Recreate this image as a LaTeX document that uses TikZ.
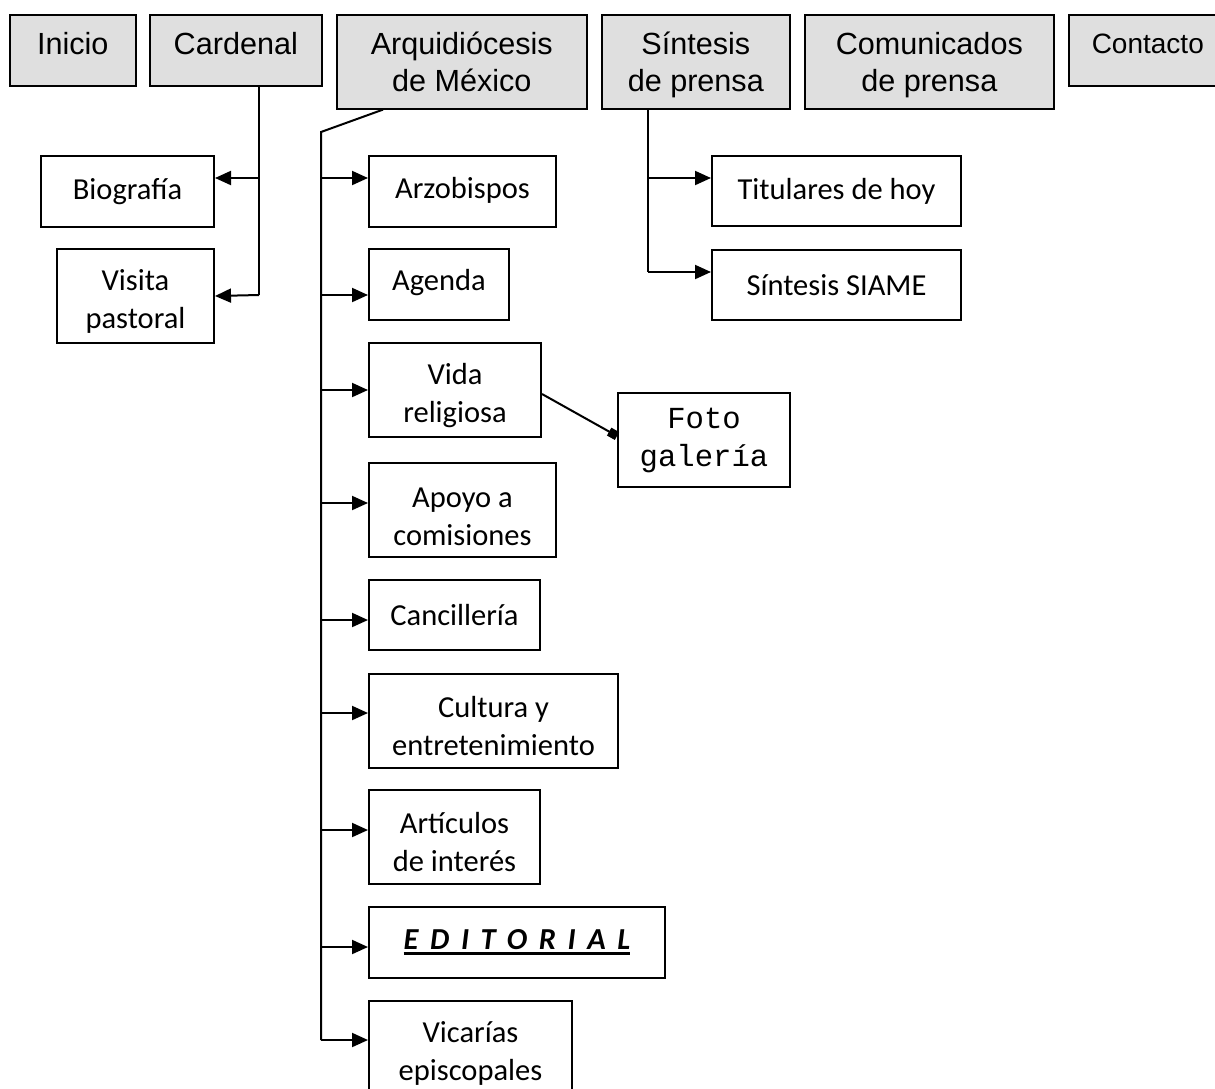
\documentclass[tikz,border=0pt]{standalone}
\usepackage{fontspec}
\setmainfont{Carlito}
\newfontfamily\arialfont{Liberation Sans}
\newfontfamily\courierfont{Liberation Mono}
\usetikzlibrary{arrows.meta,calc}

\newcommand{\subraya}[1]{\vtop{\hbox{#1}\kern1.2pt\hrule height 1.6pt}}
\newcommand{\bajar}[1]{\rule{0pt}{#1}}

\tikzset{
  menu/.style={draw, fill=gray!25, line width=0.8pt, inner sep=0pt, align=center, anchor=north west, font=\arialfont\fontsize{15.3}{18.5}\selectfont},
  hoja/.style={draw, line width=1pt, inner sep=0pt, align=center, anchor=north west, font=\fontsize{15.25}{19}\selectfont},
  flecha/.style={line width=1pt, -{Triangle[length=8pt,width=7pt]}},
  enlace/.style={line width=1pt}
}

\begin{document}
\begin{tikzpicture}[x=0.5pt,y=-0.5pt]

      \useasboundingbox (0,0) rectangle (1215,1088);

      % menu principal
      \node[menu, minimum width=63pt, minimum height=35.5pt, text depth=6.5pt] (inicio) at (9,14) {Inicio};
      \node[menu, minimum width=86pt, minimum height=35.5pt, text depth=6.5pt] (cardenal) at (149,14) {Cardenal};
      \node[menu, minimum width=125pt, minimum height=47pt] (arq) at (336,14) {Arquidiócesis\\de México};
      \node[menu, minimum width=94pt, minimum height=47pt] (sintesis) at (601,14) {\bajar{14pt}Síntesis\\de prensa};
      \node[menu, minimum width=124.5pt, minimum height=47pt] (comunicados) at (804,14) {\bajar{14pt}Comunicados\\de prensa};
      \node[menu, minimum width=79pt, minimum height=35.5pt, text depth=7pt, font=\arialfont\fontsize{14}{17}\selectfont] (contacto) at (1068,14) {Contacto};

      % Cardenal
      \node[hoja, minimum width=86.5pt, minimum height=35.5pt] (biografia) at (40,155) {Biografía};
      \node[hoja, minimum width=78.5pt, minimum height=47pt] (visita) at (56,248) {\bajar{15.5pt}Visita\\pastoral};

      % Arquidiocesis
      \node[hoja, minimum width=93.5pt, minimum height=35.5pt, text depth=4pt] (arzobispos) at (368,155) {Arzobispos};
      \node[hoja, minimum width=70pt, minimum height=35.5pt, text depth=5pt] (agenda) at (368,248) {Agenda};
      \node[hoja, minimum width=86pt, minimum height=47pt] (vida) at (368,342) {\bajar{16.5pt}Vida\\religiosa};
      \node[hoja, minimum width=93.5pt, minimum height=47pt] (apoyo) at (368,462) {\bajar{16.5pt}Apoyo a\\comisiones};
      \node[hoja, minimum width=85.5pt, minimum height=35pt] (cancilleria) at (368,579) {Cancillería};
      \node[hoja, minimum width=124.5pt, minimum height=47pt] (cultura) at (368,673) {\bajar{16pt}Cultura y\\entretenimiento};
      \node[hoja, minimum width=85.5pt, minimum height=47pt] (articulos) at (368,789) {\bajar{16pt}Artículos\\de interés};
      \node[hoja, minimum width=148pt, minimum height=35.5pt] (editorial) at (368,906) {\bfseries\itshape\addfontfeatures{LetterSpace=38}\subraya{EDITORIAL}};
      \node[hoja, minimum width=101.5pt, minimum height=47pt] (vicarias) at (368,1000) {\bajar{16pt}Vicarías\\episcopales};
      \node[hoja, minimum width=86pt, minimum height=47pt, font=\courierfont\fontsize{15.3}{19}\selectfont] (foto) at (617,392) {Foto\\galería};

      % Sintesis de prensa
      \node[hoja, minimum width=124.5pt, minimum height=35pt] (titulares) at (711,155) {Titulares de hoy};
      \node[hoja, minimum width=124.5pt, minimum height=35pt] (siame) at (711,249) {Síntesis SIAME};

      % conectores
      \coordinate (cardpie) at (259,295);
      \draw[enlace] (cardenal.south -| cardpie) -- (cardpie);
      \draw[flecha] (cardpie |- 0,178) -- (biografia.east |- 0,178);
      \draw[flecha] (cardpie) -- (visita.east);

      \coordinate (arqcodo) at (321,132);
      \coordinate (arqpie) at (321,1040);
      \draw[enlace] ($(arq.south west)+(47,0)$) -- (arqcodo) -- (arqpie);
      \draw[flecha] (arqcodo |- 0,178) -- (arzobispos.west |- 0,178);
      \draw[flecha] (arqcodo |- 0,295) -- (agenda.west |- 0,295);
      \draw[flecha] (arqcodo |- vida.west) -- (vida.west);
      \draw[flecha] (arqcodo |- 0,503) -- (apoyo.west |- 0,503);
      \draw[flecha] (arqcodo |- 0,620) -- (cancilleria.west |- 0,620);
      \draw[flecha] (arqcodo |- 0,713) -- (cultura.west |- 0,713);
      \draw[flecha] (arqcodo |- 0,830) -- (articulos.west |- 0,830);
      \draw[flecha] (arqcodo |- 0,947) -- (editorial.west |- 0,947);
      \draw[flecha] (arqpie) -- (vicarias.west |- arqpie);
      \draw[enlace, -{Square[length=4.5pt,width=4.5pt]}] ($(vida.east)+(0,4)$) -- ($(foto.west)+(0,-4)$);

      \coordinate (sintpie) at (648,272);
      \draw[enlace] (sintesis.south -| sintpie) -- (sintpie);
      \draw[flecha] (sintpie |- 0,178) -- (titulares.west |- 0,178);
      \draw[flecha] (sintpie) -- (siame.west |- sintpie);

\end{tikzpicture}
\end{document}
